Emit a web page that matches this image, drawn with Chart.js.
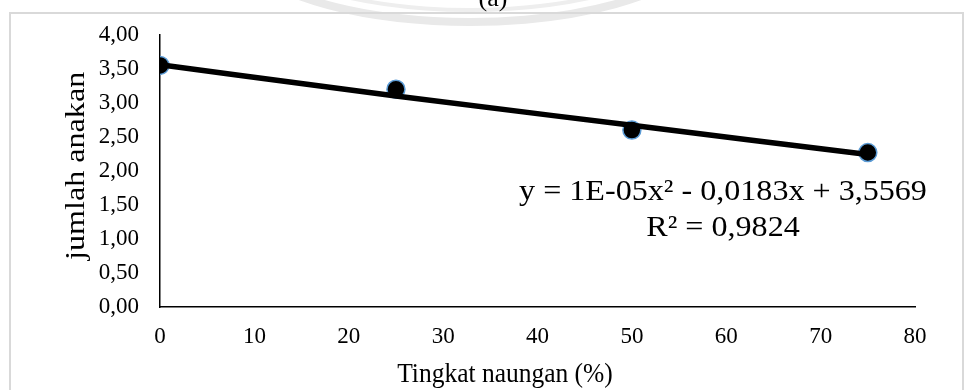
<!DOCTYPE html>
<html>
<head>
<meta charset="utf-8">
<script src="https://cdn.jsdelivr.net/npm/chart.js@4"></script>
<style>
html,body{margin:0;padding:0;background:#fff;}
#box{width:966px;height:390px;}
</style>
</head>
<body>
<div id="box"><canvas id="chart" width="966" height="390"></canvas></div>
<script>
// tingkat naungan (%) and jumlah anakan
const shade = [0, 25, 50, 75];
const tillers = [3.55, 3.20, 2.60, 2.27];

// polynomial trendline
const trendX = [0, 25, 50, 75];
const trendY = [3.56, 3.10, 2.67, 2.24];

const eqLines = ["y = 1E-05x\u00B2 - 0,0183x + 3,5569", "R\u00B2 = 0,9824"];
const panelLabel = "(a)";
const xTitle = "Tingkat naungan (%)";
const yTitle = "jumlah anakan";

const serif = "'Liberation Serif', 'Times New Roman', serif";

let pts = shade.map((x, i) => ({x: x, y: tillers[i]}));
let trend = trendX.map((x, i) => ({x: x, y: trendY[i]}));

// text with its own horizontal stretch (the original's fonts are squeezed a bit)
function stretchText(ctx, txt, x, y, size, sx, rot) {
  ctx.save();
  ctx.translate(x, y);
  if (rot) ctx.rotate(rot);
  ctx.scale(sx, 1);
  ctx.font = size + "px " + serif;
  ctx.fillStyle = "#000";
  ctx.textAlign = "center";
  ctx.textBaseline = "alphabetic";
  ctx.fillText(txt, 0, 0);
  ctx.restore();
}

const extras = {
  id: "extras",
  beforeDraw(chart) {
    let ctx = chart.ctx;
    ctx.save();
    // faint watermark arcs at the top
    ctx.strokeStyle = "#e9e9e9";
    ctx.lineWidth = 8;
    ctx.beginPath();
    ctx.ellipse(470, -70, 245, 92, 0, 0.15, Math.PI - 0.15);
    ctx.stroke();
    ctx.strokeStyle = "#eeeeee";
    ctx.lineWidth = 4;
    ctx.beginPath();
    ctx.ellipse(470, -70, 226, 80, 0, 0.2, Math.PI - 0.2);
    ctx.stroke();
    // outer frame
    ctx.strokeStyle = "#d9d9d9";
    ctx.lineWidth = 2;
    ctx.strokeRect(10, 13, 953, 400);
    ctx.restore();
    stretchText(ctx, panelLabel, 493, 6, 26, 1, 0);
  },
  afterDraw(chart) {
    let ctx = chart.ctx;
    let area = chart.chartArea;
    stretchText(ctx, xTitle, 505, 382, 28, 0.91, 0);
    stretchText(ctx, yTitle, 84, (area.top + area.bottom) / 2 - 5, 27, 1.19, -Math.PI / 2);
    stretchText(ctx, eqLines[0], 723, 200, 30, 1.07, 0);
    stretchText(ctx, eqLines[1], 723, 236, 30, 1.07, 0);
  }
};

new Chart(document.getElementById("chart"), {
  type: "scatter",
  data: {
    datasets: [
      {
        label: "trend",
        data: trend,
        showLine: true,
        borderColor: "#000",
        borderWidth: 5.5,
        pointRadius: 0,
        cubicInterpolationMode: "monotone",
        fill: false,
        order: 0
      },
      {
        label: "jumlah anakan",
        data: pts,
        backgroundColor: "#000",
        borderColor: "#5B9BD5",
        borderWidth: 1.5,
        pointRadius: 9,
        order: 1
      }
    ]
  },
  options: {
    responsive: false,
    animation: false,
    devicePixelRatio: 1,
    layout: {padding: {left: 0, top: 33, right: 51, bottom: 0}},
    plugins: {legend: {display: false}, tooltip: {enabled: false}},
    scales: {
      x: {
        type: "linear",
        min: 0,
        max: 80,
        ticks: {stepSize: 10, color: "#000", padding: 16, font: {family: serif, size: 23}},
        grid: {display: false, drawTicks: false},
        border: {color: "#000", width: 1.5},
        afterFit(scale) { scale.height = 83; }
      },
      y: {
        min: 0,
        max: 4,
        ticks: {
          stepSize: 0.5,
          color: "#000",
          padding: 21,
          font: {family: serif, size: 23},
          callback: v => v.toFixed(2).replace(".", ",")
        },
        grid: {display: false, drawTicks: false},
        border: {color: "#000", width: 1.5},
        afterFit(scale) { scale.width = 160; }
      }
    }
  },
  plugins: [extras]
});
</script>
</body>
</html>
